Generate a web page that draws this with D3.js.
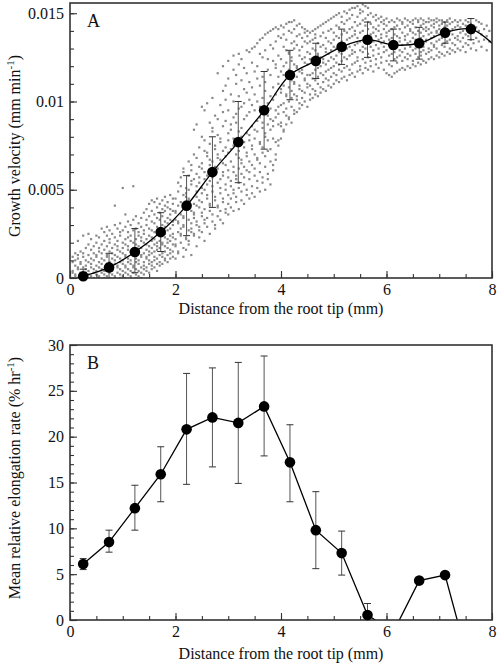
<!DOCTYPE html>
<html><head><meta charset="utf-8">
<script src="https://cdn.jsdelivr.net/npm/d3@7/dist/d3.min.js"></script>
<style>body{margin:0;background:#fff}svg{display:block}text{font-family:"Liberation Serif","Times New Roman",serif;fill:#111}</style>
</head><body><svg id="c" width="498" height="666"></svg>
<script>
// ---- data ----
const meanX = [0.25,0.74,1.23,1.72,2.21,2.70,3.19,3.68,4.17,4.66,5.15,5.64,6.13,6.62,7.11,7.60];
// Panel A: growth velocity (mm/min)
const velMean = [0.0001,0.0006,0.00147,0.0026,0.0041,0.0060,0.0077,0.0095,0.0115,0.0123,0.0131,0.0135,0.0132,0.0133,0.0139,0.0141];
const velHi   = [0.0005,0.0014,0.0028,0.0037,0.0058,0.0080,0.0100,0.0117,0.0129,0.0133,0.0141,0.0145,0.0141,0.0142,0.0145,0.0147];
const velLo   = [-0.0003,-0.0002,0.0003,0.0015,0.0024,0.0040,0.0054,0.0073,0.0101,0.0113,0.0121,0.0125,0.0123,0.0124,0.0133,0.0135];
const fitTail = [8.0, 0.0133];
// Panel B: mean relative elongation rate (% per hr)
const relMean = [6.1,8.5,12.2,15.9,20.8,22.1,21.5,23.3,17.2,9.8,7.3,0.55,-1.3,4.3,4.9,-5.5];
const relHi   = [6.7,9.8,14.7,18.9,26.9,27.5,28.1,28.8,21.3,14.0,9.7,1.8,null,null,null,null];
const relLo   = [5.5,7.4,9.8,12.9,14.8,16.7,14.9,17.9,12.9,5.6,4.9,-0.7,null,null,null,null];
// Individual measurements for panel A: "distance: velocities in 1e-4 mm/min"
const scatterCols = [
"0.05:0 3 4 9 12","0.10:1 2 7 10 14","0.15:0 5 6 11 13 21","0.20:2 3 8 9 15","0.25:0 1 6 12 14 24",
"0.30:3 5 7 10 17","0.35:0 2 4 9 13 19 25","0.40:1 6 8 11 16 22","0.45:0 3 5 10 14 18","0.50:2 4 7 12 13 20 24",
"0.55:0 1 6 9 15 17 23","0.60:3 5 8 11 14 19 28","0.65:0 2 4 10 16 21 26","0.70:1 7 8 12 13 18 24 29","0.75:0 3 6 9 15 20 22 27",
"0.80:2 4 5 11 14 17 25","0.85:0 1 8 10 13 19 23 30 41","0.90:3 6 7 12 16 18 21 28","0.95:0 2 5 9 11 15 24 26 31","1.00:1 4 8 10 14 17 20 27 51",
"1.05:0 3 6 7 12 13 19 22 29 36","1.10:2 5 9 11 16 18 23 26 32","1.15:0 1 4 8 10 15 21 24 30","1.20:3 6 7 13 14 17 20 27 33 52","1.25:0 2 5 9 11 16 19 22 28 35",
"1.30:1 4 8 10 15 18 24 26 31","1.35:0 3 6 12 13 17 21 23 29 34","1.40:2 5 7 9 14 20 25 27 37","1.45:4 6 11 12 16 19 22 30 33 39","1.50:3 8 10 13 15 18 24 28 35 42",
"1.55:5 7 9 14 17 21 23 27 32 38 44","1.60:6 10 12 15 19 22 26 31 36 43","1.65:4 8 11 16 18 20 25 29 34 40 45","1.70:7 9 13 17 21 24 27 33 37 42","1.75:8 12 14 19 20 26 30 35 39 44",
"1.80:10 11 15 18 23 25 29 32 38 41 46","1.85:9 13 17 20 22 27 31 34 40 43","1.90:11 14 16 21 24 28 33 36 39 47","1.95:12 15 19 23 25 30 32 38 42 45",
"2.00:11 18 19 22 33 37 38 45","2.05:14 15 26 31 32 41 49 54","2.10:20 24 25 28 36 43 52 57","2.15:12 17 29 30 34 35 47 60 62","2.20:16 22 23 39 40 46 48 51",
"2.25:19 21 27 33 44 45 50 58 66","2.30:13 26 28 31 38 53 55 61 64","2.35:24 25 34 36 37 42 56 70 84","2.40:18 30 32 41 46 49 52 59 68 87","2.45:23 27 29 40 44 54 57 63 74",
"2.50:26 35 37 43 48 51 62 65 80 97","2.55:21 31 33 39 50 56 60 72 78 95","2.60:29 34 45 47 53 58 69 71 99","2.65:25 38 41 42 55 64 67 76 88","2.70:32 36 49 52 57 61 66 83 85 102",
"2.75:28 30 44 46 59 63 73 75 92","2.80:35 40 41 54 62 68 70 81 90 116","2.85:33 38 48 51 56 67 77 79 98","2.90:31 43 45 58 60 65 72 86 94 106 120","2.95:37 39 50 53 64 69 74 89 101 109",
"3.00:36 42 47 57 61 71 78 82 95 113 123","3.05:40 45 52 55 66 73 84 87 104","3.10:38 48 50 60 63 75 79 91 100 118 126","3.15:43 46 56 58 70 76 88 93 110 115","3.20:39 51 54 62 68 72 83 96 103 121 127",
"3.25:44 49 59 65 67 80 85 97 112 124","3.30:42 53 57 63 74 77 90 99 107 119","3.35:47 50 61 69 71 82 92 105 116 129","3.40:45 56 60 66 78 81 94 101 111 128","3.45:48 52 64 73 75 86 98 108 122 130",
"3.50:46 58 62 70 79 84 95 104 117 131","3.55:51 55 67 68 83 89 100 113 120 133","3.60:49 60 65 76 77 91 97 109 127 135","3.65:54 57 71 74 85 88 102 114 125 136","3.70:50 63 69 80 82 93 106 111 129 138",
"3.75:56 59 72 78 87 92 99 118 124 139","3.80:53 66 73 84 90 96 103 115 132 140","3.85:61 64 79 86 89 101 108 123 130 141","3.90:67 70 77 91 95 104 119 121 134 142","3.95:75 78 87 93 97 110 114 126 137 141",
"4.00:79 86 88 98 105 107 117 124 136 143","4.05:83 84 94 99 109 115 120 131 138 142","4.10:87 92 96 103 104 116 122 129 135 144","4.15:90 91 100 108 113 118 127 128 140 145","4.20:88 97 102 106 112 123 125 133 139 145",
"4.25:93 95 104 110 111 121 130 134 141 146","4.30:94 101 103 114 119 120 132 137 143","4.35:96 99 107 109 117 126 129 138 144","4.40:98 102 106 116 118 124 131 136 142","4.45:100 105 112 113 122 125 134 139 141",
"4.50:97 108 110 115 121 128 133 137 140","4.55:101 104 109 115 124 127 134 139","4.60:102 107 113 116 122 130 135 140","4.65:104 106 112 118 123 129 136 138 141","4.70:103 110 114 119 126 127 133 142",
"4.75:105 108 116 120 125 131 137 143","4.80:107 111 115 122 124 132 139 144","4.85:106 113 117 121 128 130 136 145","4.90:109 112 118 123 127 134 140 146","4.95:108 114 119 125 129 133 141 147",
"5.00:110 116 120 124 131 135 139 148","5.05:112 115 122 126 130 137 143 149","5.10:111 118 121 128 132 136 142 150","5.15:113 117 123 127 134 138 145 148","5.20:114 119 125 129 133 140 144 151",
"5.25:112 120 124 130 135 139 146 150","5.30:115 118 126 131 136 141 147 152","5.35:116 121 127 129 137 142 149 153","5.40:114 122 128 132 138 140 145 153","5.45:117 123 125 133 136 143 148 154",
"5.50:118 120 129 134 139 144 150 152","5.55:116 124 128 131 140 146 151 155","5.60:119 122 130 135 137 143 147 154","5.65:118 125 127 133 141 145 149 153","5.70:120 123 131 136 138 144 150",
"5.75:117 126 129 134 139 142 148","5.80:121 124 132 137 141 146 149","5.85:119 127 130 135 140 143 147","5.90:122 125 133 136 138 145 148","5.95:118 128 131 134 141 144 146",
"6.00:116 123 129 137 139 143 147","6.05:115 121 126 132 135 140 145","6.10:114 120 127 130 136 141 146","6.15:116 124 128 133 138 142 145","6.20:117 122 125 131 137 143 147",
"6.25:118 126 129 134 136 141 146","6.30:119 123 128 132 139 144 145","6.35:118 125 130 135 137 142 147","6.40:120 124 127 133 138 143 146","6.45:119 126 131 134 140 141 145",
"6.50:121 123 129 136 139 144 146","6.55:120 127 130 135 138 142 147","6.60:122 125 132 133 140 145 146","6.65:121 126 128 136 139 143 147","6.70:123 129 131 137 141 144 146",
"6.75:122 127 134 135 140 142 145","6.80:124 128 130 138 141 145 147","6.85:125 129 133 136 139 143 146","6.90:124 131 132 137 142 144 146","6.95:126 130 134 139 140 145 147",
"7.00:125 128 135 138 141 143 146","7.05:127 132 136 140 144 146","7.10:126 131 133 139 142 145","7.15:128 134 137 141 143 146","7.20:127 130 135 140 144 147",
"7.25:129 133 138 141 145","7.30:128 132 136 142 146","7.35:130 135 137 143 145","7.40:129 134 139 142 146","7.45:131 136 140 144",
"7.50:128 133 138 143 146","7.55:132 137 141 145","7.60:130 135 140 144","7.65:133 139 143","7.70:129 136 142 146",
"7.75:134 140 145","7.80:131 138 144","7.85:135 141","7.90:129 137 143","7.95:134 140"
];
const xTickLabels = ["0","2","4","6","8"];
const xTicks = [0,2,4,6,8];
const yTicksA = [0,0.005,0.01,0.015];
const yTickLabelsA = ["0","0.005","0.01","0.015"];
const yTicksB = [0,5,10,15,20,25,30];
const yTickLabelsB = ["0","5","10","15","20","25","30"];
const xLabel = "Distance from the root tip (mm)";

// ---- drawing ----
const svg = d3.select("#c");
const L=70, R=492;
const x = d3.scaleLinear().domain([0,8]).range([L,R]);
const yA = d3.scaleLinear().domain([0,0.01558]).range([278,3]);
const yB = d3.scaleLinear().domain([0,30]).range([620,345]);

const defs = svg.append("defs");
defs.append("clipPath").attr("id","clipA").append("rect").attr("x",L).attr("y",3).attr("width",R-L).attr("height",275);
defs.append("clipPath").attr("id","clipB").append("rect").attr("x",L).attr("y",345).attr("width",R-L).attr("height",275);

const pts = [];
scatterCols.forEach(s=>{const [xs,ys]=s.split(":");ys.trim().split(/\s+/).forEach(v=>pts.push([+xs,+v*1e-4]));});

function axes(y, yTicks, yLabels, top, bottom){
  const minorX = d3.range(0,8.01,0.5);
  const step = yTicks[1]-yTicks[0];
  const minorY = d3.range(0, y.domain()[1]+1e-9, step/5);
  const gx = svg.append("g").attr("transform",`translate(0,${bottom})`)
    .call(d3.axisBottom(x).tickValues(minorX).tickSize(-4).tickFormat(""));
  const gx2 = svg.append("g").attr("transform",`translate(0,${bottom})`)
    .call(d3.axisBottom(x).tickValues(xTicks).tickSize(-7).tickPadding(6).tickFormat((d,i)=>xTickLabels[i]));
  const gy = svg.append("g").attr("transform",`translate(${L},0)`)
    .call(d3.axisLeft(y).tickValues(minorY).tickSize(-4).tickFormat(""));
  const gy2 = svg.append("g").attr("transform",`translate(${L},0)`)
    .call(d3.axisLeft(y).tickValues(yTicks).tickSize(-7).tickPadding(6).tickFormat((d,i)=>yLabels[i]));
  [gx,gx2,gy,gy2].forEach(g=>{g.select(".domain").remove();g.selectAll("line").attr("stroke","#333").attr("stroke-width",1.1);
    g.selectAll("text").style("font-family","'Liberation Serif',serif").style("font-size","16px").attr("fill","#111");});
  svg.append("rect").attr("x",L).attr("y",top).attr("width",R-L).attr("height",bottom-top)
    .attr("fill","none").attr("stroke","#333").attr("stroke-width",1.6);
}

// Panel A
const gA = svg.append("g").attr("clip-path","url(#clipA)");
gA.selectAll("rect.pt").data(pts).enter().append("rect").attr("class","pt")
  .attr("x",d=>x(d[0])-1.1).attr("y",d=>yA(d[1])-1.1).attr("width",2.2).attr("height",2.2).attr("fill","#8a8a8a");
function errbars(g, y, hi, lo){
  meanX.forEach((mx,i)=>{
    if(hi[i]==null) return;
    const cx=x(mx);
    g.append("line").attr("x1",cx).attr("x2",cx).attr("y1",y(hi[i])).attr("y2",y(lo[i])).attr("stroke","#555").attr("stroke-width",1);
    [hi[i],lo[i]].forEach(v=>g.append("line").attr("x1",cx-3.5).attr("x2",cx+3.5).attr("y1",y(v)).attr("y2",y(v)).attr("stroke","#333").attr("stroke-width",1));
  });
}
errbars(gA, yA, velHi, velLo);
const lineA = meanX.map((mx,i)=>[mx,velMean[i]]).concat([fitTail]);
gA.append("path").datum(lineA).attr("fill","none").attr("stroke","#000").attr("stroke-width",1.3)
  .attr("d",d3.line().x(d=>x(d[0])).y(d=>yA(d[1])).curve(d3.curveCatmullRom.alpha(0.5)));
axes(yA, yTicksA, yTickLabelsA, 3, 278);
svg.append("g").selectAll("circle").data(meanX).enter().append("circle")
  .attr("cx",d=>x(d)).attr("cy",(d,i)=>yA(velMean[i])).attr("r",5.3).attr("fill","#000");

// Panel B
const gB = svg.append("g").attr("clip-path","url(#clipB)");
errbars(gB, yB, relHi, relLo);
gB.append("path").datum(meanX.map((mx,i)=>[mx,relMean[i]])).attr("fill","none").attr("stroke","#000").attr("stroke-width",1.3)
  .attr("d",d3.line().x(d=>x(d[0])).y(d=>yB(d[1])));
axes(yB, yTicksB, yTickLabelsB, 345, 620);
svg.append("g").selectAll("circle").data(meanX.map((mx,i)=>[mx,relMean[i]]).filter(d=>d[1]>=0)).enter().append("circle")
  .attr("cx",d=>x(d[0])).attr("cy",d=>yB(d[1])).attr("r",5.3).attr("fill","#000");

// Labels
const fs = "16px";
svg.append("text").attr("x",281).attr("y",314).attr("text-anchor","middle").style("font-size",fs).text(xLabel);
svg.append("text").attr("x",281).attr("y",659).attr("text-anchor","middle").style("font-size",fs).text(xLabel);
function ylab(cx, cy, main){
  const t = svg.append("text").attr("transform",`translate(${cx},${cy}) rotate(-90)`).attr("text-anchor","middle").style("font-size",fs);
  t.append("tspan").text(main);
  t.append("tspan").attr("dy",-6).style("font-size","11px").text("-1");
  t.append("tspan").attr("dy",6).text(")");
}
ylab(20,146,"Growth velocity (mm min");
ylab(20,478,"Mean relative elongation rate (% hr");
svg.append("text").attr("x",87).attr("y",27).style("font-size","18px").text("A");
svg.append("text").attr("x",87).attr("y",369).style("font-size","18px").text("B");
</script></body></html>
